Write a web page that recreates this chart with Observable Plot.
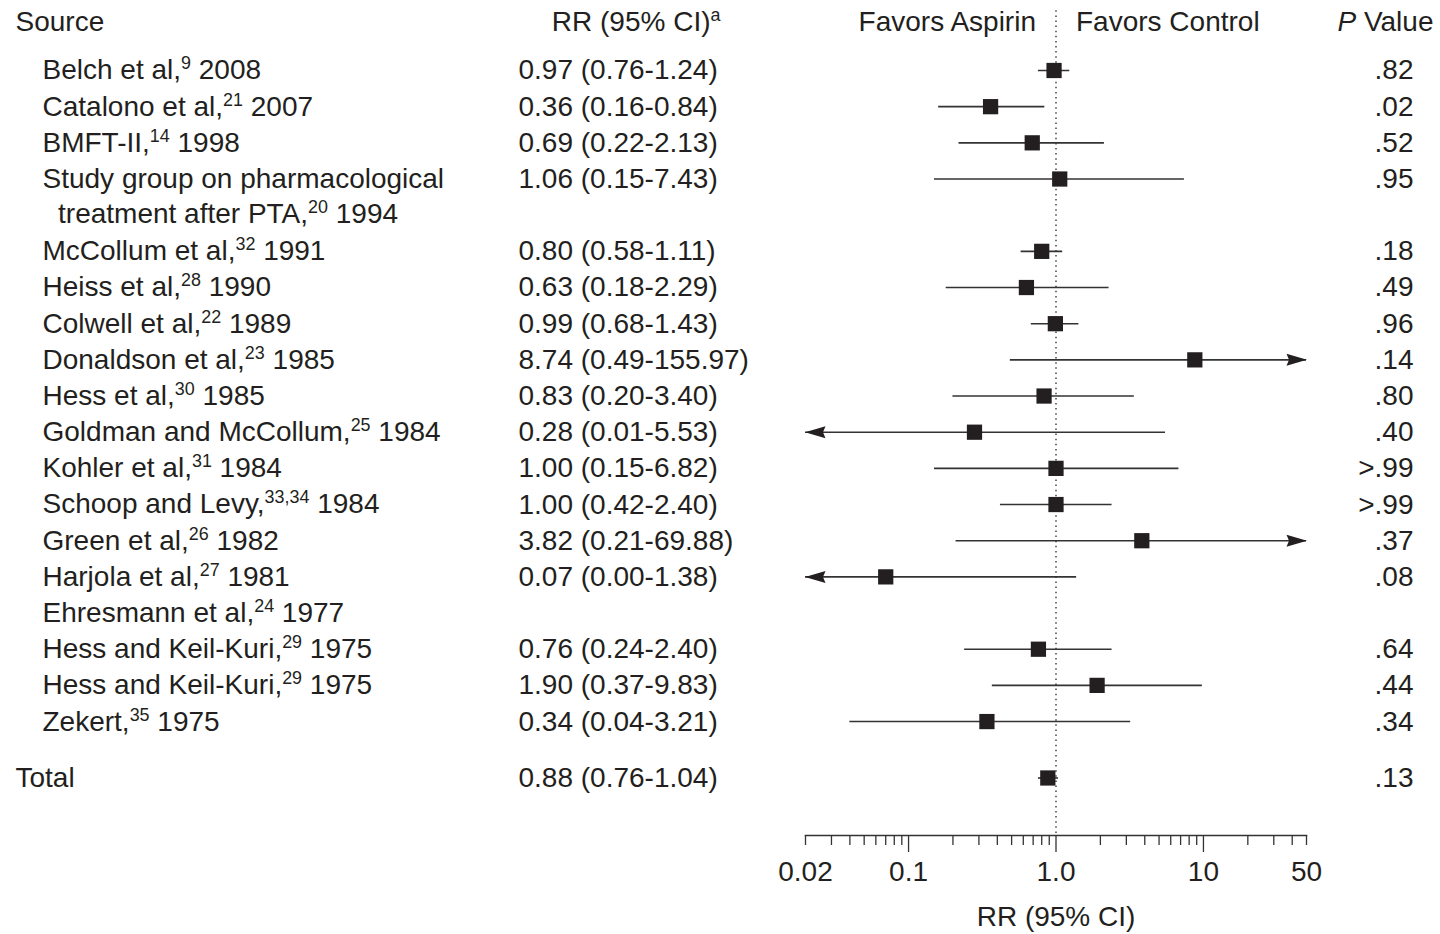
<!DOCTYPE html>
<html><head><meta charset="utf-8">
<script src="https://cdn.jsdelivr.net/npm/d3@7"></script>
<script src="https://cdn.jsdelivr.net/npm/@observablehq/plot@0.6"></script>
<style>html,body{margin:0;padding:0;background:#fff;} #chart svg{display:block;}</style>
</head><body><div id="chart"></div>
<script>
// ---- data ----
const names = [
  "Belch et al,^9^ 2008",
  "Catalono et al,^21^ 2007",
  "BMFT-II,^14^ 1998",
  "Study group on pharmacological\n\u00a0\u00a0treatment after PTA,^20^ 1994",
  "McCollum et al,^32^ 1991",
  "Heiss et al,^28^ 1990",
  "Colwell et al,^22^ 1989",
  "Donaldson et al,^23^ 1985",
  "Hess et al,^30^ 1985",
  "Goldman and McCollum,^25^ 1984",
  "Kohler et al,^31^ 1984",
  "Schoop and Levy,^33,34^ 1984",
  "Green et al,^26^ 1982",
  "Harjola et al,^27^ 1981",
  "Ehresmann et al,^24^ 1977",
  "Hess and Keil-Kuri,^29^ 1975",
  "Hess and Keil-Kuri,^29^ 1975",
  "Zekert,^35^ 1975"
];
const rr = [0.97, 0.36, 0.69, 1.06, 0.80, 0.63, 0.99, 8.74, 0.83, 0.28, 1.00, 1.00, 3.82, 0.07, null, 0.76, 1.90, 0.34];
const lo = [0.76, 0.16, 0.22, 0.15, 0.58, 0.18, 0.68, 0.49, 0.20, 0.01, 0.15, 0.42, 0.21, 0.00, null, 0.24, 0.37, 0.04];
const hi = [1.24, 0.84, 2.13, 7.43, 1.11, 2.29, 1.43, 155.97, 3.40, 5.53, 6.82, 2.40, 69.88, 1.38, null, 2.40, 9.83, 3.21];
const pvals = [".82", ".02", ".52", ".95", ".18", ".49", ".96", ".14", ".80", ".40", ">.99", ">.99", ".37", ".08", "", ".64", ".44", ".34"];
const totalName = "Total";
const totalRR = 0.88, totalLo = 0.76, totalHi = 1.04, totalP = ".13";
const headers = {source: "Source", rr: "RR (95% CI)^a^", left: "Favors Aspirin", right: "Favors Control", p: "_P_ Value"};
const xDomain = [0.02, 50];
const labelTicks = [0.02, 0.1, 1, 10, 50];
const labelTickText = ["0.02", "0.1", "1.0", "10", "50"];
const majorTicks = [0.1, 1, 10];
const minorTicks = [0.02, 0.03, 0.04, 0.05, 0.06, 0.07, 0.08, 0.09, 0.2, 0.3, 0.4, 0.5, 0.6, 0.7, 0.8, 0.9, 2, 3, 4, 5, 6, 7, 8, 9, 20, 30, 40, 50];
const axisTitle = "RR (95% CI)";

// ---- layout ----
const FONT = "'Liberation Sans', Arial, Helvetica, sans-serif";
const FS = 28;
const INK = "#231f20";
let acc = 0;
const rows = names.map((name, i) => {
  const r = acc; acc += name.split("\n").length;
  return {name, rr: rr[i], lo: lo[i], hi: hi[i], p: pvals[i], row: r};
});
const totalRow = {name: totalName, rr: totalRR, lo: totalLo, hi: totalHi, p: totalP, row: acc + 0.56};
const axisRow = acc + 2.15;
const headRow = -1.33;
const all = [...rows, totalRow];
const est = all.filter(d => d.rr != null);
const fmt = v => v.toFixed(2);
const rrLabel = d => d.rr == null ? "" : `${fmt(d.rr)} (${fmt(d.lo)}-${fmt(d.hi)})`;
const arrows = [];
for (const d of est) {
  if (d.hi > xDomain[1]) arrows.push({x: xDomain[1], row: d.row, rotate: 0});
  if (d.lo < xDomain[0]) arrows.push({x: xDomain[0], row: d.row, rotate: 180});
}
const arrowHead = {draw(ctx) { ctx.moveTo(0.5, 0); ctx.lineTo(-20, -6); ctx.lineTo(-17.5, 0); ctx.lineTo(-20, 6); ctx.closePath(); }};

const marginLeft = 805, marginRight = 134;
const leftEdge = -marginLeft; // dx from frame left to page left

const chart = Plot.plot({
  width: 1440, height: 934,
  marginTop: 70, marginBottom: 99, marginLeft, marginRight,
  style: {fontFamily: FONT, fontSize: FS + "px", color: INK, background: "#fff"},
  x: {type: "log", domain: xDomain},
  y: {domain: [0, axisRow], reverse: true, axis: null},
  marks: [
    Plot.ruleX([1], {y1: -1.65, y2: axisRow, stroke: "#444", strokeWidth: 1.5, strokeDasharray: "1.5,3.6"}),
    Plot.ruleY(est, {y: "row", x1: d => Math.max(d.lo, xDomain[0]), x2: d => Math.min(d.hi, xDomain[1]), stroke: "#333", strokeWidth: 1.6}),
    Plot.dot(arrows, {x: "x", y: "row", rotate: "rotate", symbol: arrowHead, fill: INK}),
    Plot.dot(est, {x: "rr", y: "row", symbol: "square", r: 8.6, fill: INK}),
    // headers
    Plot.text([headers.source], {frameAnchor: "left", y: () => headRow, text: d => d, textAnchor: "start", dx: leftEdge + 15, fontSize: FS, fill: INK}),
    Plot.text([headers.rr], {frameAnchor: "left", y: () => headRow, text: d => d, textAnchor: "end", dx: leftEdge + 720, fontSize: FS, fill: INK}),
    Plot.text([headers.left], {x: () => 1, y: () => headRow, text: d => d, textAnchor: "end", dx: -20, fontSize: FS, fill: INK}),
    Plot.text([headers.right], {x: () => 1, y: () => headRow, text: d => d, textAnchor: "start", dx: 20, fontSize: FS, fill: INK}),
    Plot.text([headers.p], {frameAnchor: "right", y: () => headRow, text: d => d, textAnchor: "end", dx: 127, fontSize: FS, fill: INK}),
    // study names
    Plot.text(rows, {frameAnchor: "left", y: "row", text: "name", textAnchor: "start", lineAnchor: "top", lineHeight: 1.25, dy: -0.39 * FS - 5, dx: leftEdge + 42, fontSize: FS, fill: INK}),
    Plot.text([totalRow], {frameAnchor: "left", y: "row", text: "name", textAnchor: "start", dx: leftEdge + 15, fontSize: FS, fill: INK}),
    // RR column
    Plot.text(all, {frameAnchor: "left", y: "row", text: rrLabel, textAnchor: "start", dx: leftEdge + 518, fontSize: FS, fill: INK}),
    // P column
    Plot.text(all, {frameAnchor: "right", y: "row", text: "p", textAnchor: "end", dx: 107, fontSize: FS, fill: INK}),
    // axis
    Plot.frame({anchor: "bottom", stroke: "#333", strokeWidth: 1.5}),
    Plot.axisX(minorTicks, {tickSize: 10, fill: "none", label: null, stroke: "#333", strokeWidth: 1.3}),
    Plot.axisX(majorTicks, {tickSize: 17, fill: "none", label: null, stroke: "#333", strokeWidth: 1.3}),
    Plot.text(labelTicks, {x: d => d, frameAnchor: "bottom", text: (d, i) => labelTickText[i], textAnchor: "middle", dy: 45, fontSize: FS, fill: INK}),
    Plot.text([axisTitle], {frameAnchor: "bottom", text: d => d, textAnchor: "middle", dy: 90, fontSize: FS, fill: INK})
  ]
});

// rich text: ^sup^ and _italic_
const NS = "http://www.w3.org/2000/svg";
const walker = document.createTreeWalker(chart, NodeFilter.SHOW_TEXT);
const nodes = [];
while (walker.nextNode()) if (/[\^_]/.test(walker.currentNode.nodeValue)) nodes.push(walker.currentNode);
for (const node of nodes) {
  const parts = node.nodeValue.split(/(\^[^\^]*\^|_[^_]*_)/);
  const frag = document.createDocumentFragment();
  for (const p of parts) {
    if (!p) continue;
    if (p.length > 1 && p[0] === "^" && p.endsWith("^")) {
      const t = document.createElementNS(NS, "tspan");
      t.setAttribute("baseline-shift", String(FS * 0.36));
      t.setAttribute("font-size", String(FS * 0.64));
      t.textContent = p.slice(1, -1);
      frag.append(t);
    } else if (p.length > 1 && p[0] === "_" && p.endsWith("_")) {
      const t = document.createElementNS(NS, "tspan");
      t.setAttribute("font-style", "italic");
      t.textContent = p.slice(1, -1);
      frag.append(t);
    } else frag.append(document.createTextNode(p));
  }
  node.replaceWith(frag);
}
document.getElementById("chart").append(chart);
</script>
</body></html>
